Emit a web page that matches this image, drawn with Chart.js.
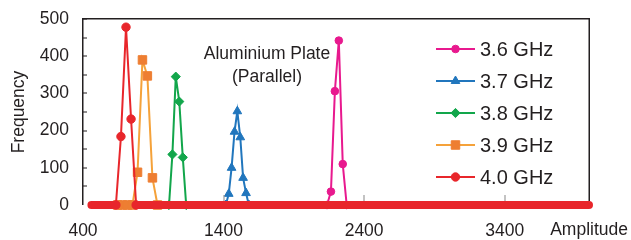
<!DOCTYPE html>
<html>
<head>
<meta charset="utf-8">
<script src="https://cdn.jsdelivr.net/npm/chart.js@4.4.1/dist/chart.umd.min.js"></script>
<style>
  html, body { margin: 0; padding: 0; background: #fff; }
  canvas { display: block; }
</style>
</head>
<body>
<canvas id="histChart" width="631" height="240"></canvas>
<script>
  // series names
  const freqLabels = ['3.6 GHz', '3.7 GHz', '3.8 GHz', '3.9 GHz', '4.0 GHz'];

  // amplitude bins + counts
  const amp36 = [2136, 2164, 2192, 2220, 2248, 2276];
  const cnt36 = [0, 36, 306, 442, 110, 0];

  const amp37 = [1416, 1437, 1457, 1478, 1498, 1519, 1539, 1560, 1580];
  const cnt37 = [0, 30, 100, 197, 252, 182, 73, 32, 0];

  const amp38 = [1012, 1036, 1060, 1085, 1110, 1134];
  const cnt38 = [0, 136, 345, 278, 128, 0];

  const amp39 = [646, 681, 717, 752, 788, 823, 858, 894, 930];
  const cnt39 = [0, 0, 0, 0, 88, 390, 347, 73, 0];

  const amp40 = [634, 670, 706, 742, 778];
  const cnt40 = [0, 184, 478, 231, 0];

  // the dense run of zero-count bins (4.0 GHz markers) along the baseline
  const zeroAmp = [460, 634, 706, 778, 4000];
  const zeroCnt = [0, 0, null, 0, 0];

  const xTickLabels = [400, 1400, 2400, 3400];
  const yTickLabels = [0, 100, 200, 300, 400, 500];
  const yMinorTicks = [50, 150, 250, 350, 450];

  const textColor = '#231F20';
  const colors = ['#E8198E', '#2176BD', '#12A64B', '#F5A23A', '#E8262B'];
  const markerColors = ['#E8198E', '#2176BD', '#12A64B', '#EE7E32', '#E8262B'];
  const markerStyles = ['circle', 'triangle', 'rectRot', 'rect', 'circle'];
  const markerSizes = [3.8, 5, 4.6, 6, 4.2];

  const toPoints = (xs, ys) => xs.map((x, i) => ({ x: x, y: ys[i] }));
  const allSeries = [
    [amp36, cnt36], [amp37, cnt37], [amp38, cnt38], [amp39, cnt39], [amp40, cnt40]
  ];

  const datasets = allSeries.map(([xs, ys], i) => ({
    label: freqLabels[i],
    data: toPoints(xs, ys),
    borderColor: colors[i],
    borderWidth: 2,
    pointStyle: markerStyles[i],
    pointRadius: markerSizes[i],
    pointHoverRadius: markerSizes[i],
    pointBackgroundColor: markerColors[i],
    pointBorderColor: markerColors[i],
    pointBorderWidth: 1,
    tension: 0,
    clip: false,
    order: 5 - i
  }));

  datasets.push({
    label: 'zero bins',
    data: toPoints(zeroAmp, zeroCnt),
    borderColor: colors[4],
    borderWidth: 8,
    borderCapStyle: 'round',
    pointRadius: 0,
    spanGaps: false,
    clip: false,
    order: 0
  });

  const fontFamily = '"Liberation Sans", Arial, sans-serif';
  const font = (size) => size + 'px ' + fontFamily;

  // plot frame, inside ticks, text box and legend
  const decorations = {
    id: 'decorations',
    afterDatasetsDraw(chart) {
      const { ctx, chartArea: a, scales } = chart;
      const l = Math.round(a.left), t = Math.round(a.top);
      const r = Math.round(a.right), b = Math.round(a.bottom);
      ctx.save();
      ctx.fillStyle = textColor;
      ctx.fillRect(l - 1, t - 1, 1.5, b - t + 1);
      ctx.fillRect(l - 1, t - 1, r - l + 1.5, 1.5);
      ctx.fillRect(r - 0.5, t - 1, 1.5, b - t - 3);
      yTickLabels.concat(yMinorTicks).forEach(v => {
        const y = Math.round(scales.y.getPixelForValue(v));
        if (v > 0) ctx.fillRect(l, y - 0.5, 4, 1);
      });
      ctx.fillStyle = '#888';
      xTickLabels.slice(1).forEach(v => {
        const x = Math.round(scales.x.getPixelForValue(v));
        ctx.fillRect(x - 0.5, b - 10, 1, 6);
      });
      ctx.restore();
    },
    afterDraw(chart) {
      const { ctx } = chart;
      ctx.save();
      ctx.fillStyle = textColor;
      ctx.textAlign = 'center';
      ctx.textBaseline = 'middle';
      ctx.font = font(17.5);
      ctx.fillText('Aluminium Plate', 267, 54);
      ctx.fillText('(Parallel)', 267, 77);

      ctx.textAlign = 'right';
      ctx.fillText('Amplitude', 628, 230);

      chart.data.datasets.slice(0, 5).forEach((ds, i) => {
        const y = 49 + i * 32;
        ctx.strokeStyle = ds.borderColor;
        ctx.lineWidth = 2;
        ctx.beginPath();
        ctx.moveTo(436, y);
        ctx.lineTo(475, y);
        ctx.stroke();
        ctx.fillStyle = ds.pointBackgroundColor;
        ctx.strokeStyle = ds.pointBorderColor;
        ctx.lineWidth = 1;
        Chart.helpers.drawPoint(ctx, {
          pointStyle: ds.pointStyle, radius: ds.pointRadius, rotation: 0, borderWidth: 1
        }, 455.5, y);
        ctx.fillStyle = textColor;
        ctx.textAlign = 'left';
        ctx.font = font(20);
        ctx.fillText(ds.label, 480, y + 1);
      });
      ctx.restore();
    }
  };

  new Chart(document.getElementById('histChart'), {
    type: 'line',
    data: { datasets: datasets },
    options: {
      responsive: false,
      animation: false,
      events: [],
      layout: { padding: { left: 0, right: 42, top: 19, bottom: 0 } },
      plugins: {
        legend: { display: false },
        tooltip: { enabled: false }
      },
      scales: {
        x: {
          type: 'linear',
          min: 400,
          max: 4000,
          grid: { display: false, drawTicks: false },
          border: { display: false },
          afterBuildTicks: s => { s.ticks = xTickLabels.map(v => ({ value: v })); },
          afterFit: s => { s.height = 35; },
          ticks: {
            padding: 16,
            color: textColor,
            font: { family: fontFamily, size: 17.5 },
            maxRotation: 0,
            callback: v => v
          }
        },
        y: {
          min: 0,
          max: 500,
          grid: { display: false, drawTicks: false },
          border: { display: false },
          afterBuildTicks: s => { s.ticks = yTickLabels.map(v => ({ value: v })); },
          afterFit: s => { s.width = 83; s.paddingTop = 0; s.paddingBottom = 0; },
          ticks: {
            padding: 14,
            color: textColor,
            font: { family: fontFamily, size: 17.5 }
          },
          title: {
            display: true,
            text: 'Frequency',
            color: textColor,
            padding: { top: 9, bottom: 0 },
            font: { family: fontFamily, size: 17.5 }
          }
        }
      }
    },
    plugins: [decorations]
  });
</script>
</body>
</html>
